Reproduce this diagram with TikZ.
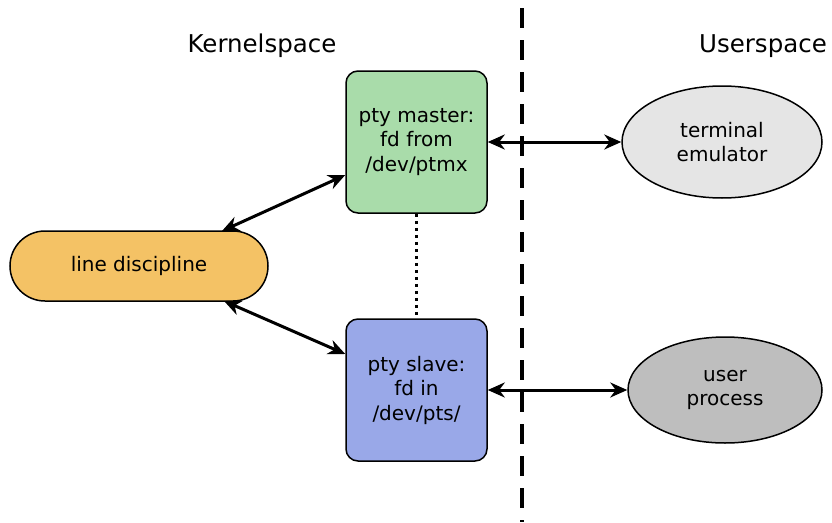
\documentclass[tikz,border=0pt]{standalone}
\usepackage{fontspec}
\setmainfont{DejaVu Sans}
\usetikzlibrary{arrows.meta,shapes.misc,shapes.geometric}
\definecolor{mastergreen}{HTML}{A9DCAA}
\definecolor{slaveblue}{HTML}{99A8E8}
\definecolor{ldorange}{HTML}{F4C265}
\definecolor{termgray}{HTML}{E5E5E5}
\definecolor{procgray}{HTML}{BEBEBE}
\tikzset{
  bodyfont/.style={font=\fontsize{20}{24.5}\selectfont},
  ptybox/.style={draw=black, line width=1.5pt, rounded corners=12pt,
    minimum width=141pt, minimum height=142pt, align=center, bodyfont},
  ellnode/.style={draw=black, line width=1.5pt, ellipse, align=center,
    inner sep=0pt, bodyfont},
  title/.style={font=\fontsize{24.5}{29}\selectfont},
  link/.style={line width=3pt, {Stealth[length=17pt,width=15pt,inset=5.5pt]}-{Stealth[length=17pt,width=15pt,inset=5.5pt]}},
}
\begin{document}
\begin{tikzpicture}[x=1pt,y=-1pt]
\useasboundingbox (0,0) rectangle (832,522);
% user/kernel boundary
\draw[line width=3.5pt, dash pattern=on 20pt off 12pt] (522,8) -- (522,522);
\node[title] (kern) at (262,46) {Kernelspace};
\node[title] (user) at (763,46) {Userspace};
% pty pair
\node[ptybox, fill=mastergreen] (master) at (416.5,142) {pty master:\\fd from\\/dev/ptmx};
\node[ptybox, fill=slaveblue] (slave) at (416.5,390) {pty slave:\\fd in\\/dev/pts/};
\draw[line width=3pt, dash pattern=on 3pt off 4pt] (master.south) -- (slave.north);
% line discipline
\node[draw=black, line width=1.5pt, rounded rectangle, fill=ldorange,
  minimum width=258pt, minimum height=70pt, inner xsep=0pt,
  bodyfont] (ld) at (139,266) {line discipline};
% userspace processes
\node[ellnode, fill=termgray, minimum width=200pt, minimum height=112pt] (term) at (722,142) {terminal\\emulator};
\node[ellnode, fill=procgray, minimum width=194pt, minimum height=106pt] (proc) at (725,390) {user\\process};
% connectors
\coordinate (ldtop) at (222,231);
\coordinate (ldbot) at (224,301);
\draw[link] (ldtop) -- (master.west |- 0,175);
\draw[link] (ldbot) -- (slave.west |- 0,354);
\draw[link] (master.east) -- (term.west);
\draw[link] (slave.east) -- (proc.west);
\end{tikzpicture}
\end{document}
